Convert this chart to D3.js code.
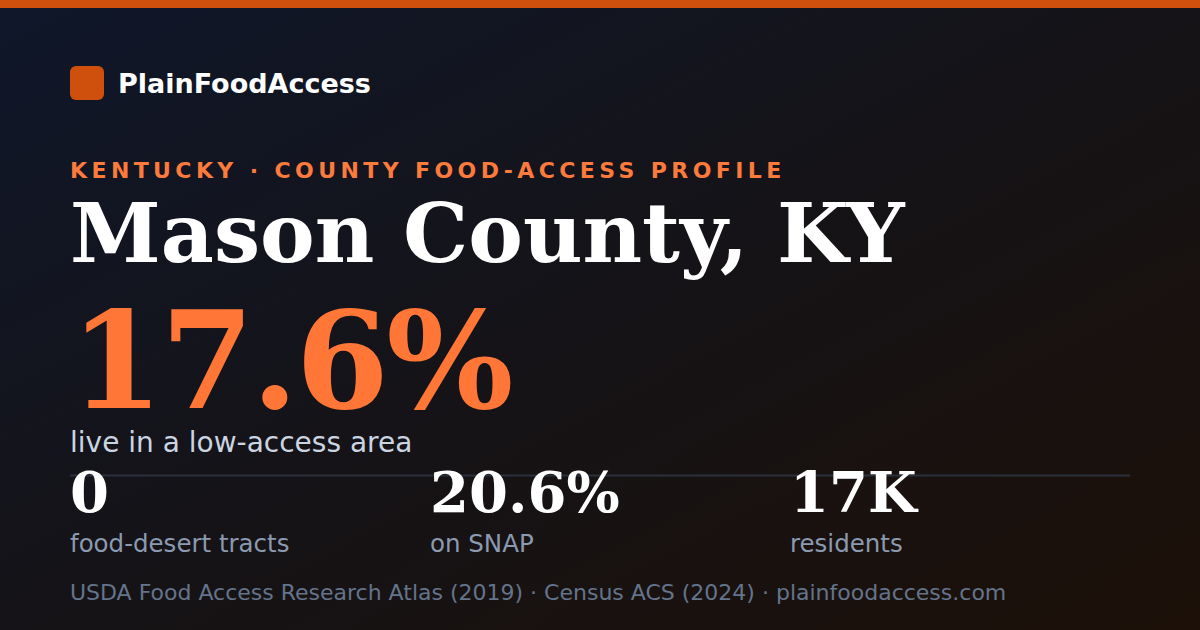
<!DOCTYPE html>
<html><head><meta charset="utf-8">
<script src="https://cdn.jsdelivr.net/npm/d3@7/dist/d3.min.js"></script>
<style>html,body{margin:0;padding:0;background:#111;}svg{display:block;}</style>
</head><body>
<script>
const brand = "PlainFoodAccess";
const kicker = "KENTUCKY · COUNTY FOOD-ACCESS PROFILE";
const title = "Mason County, KY";
const headline = "17.6%";
const headlineLabel = "live in a low-access area";
const statValues = ["0", "20.6%", "17K"];
const statLabels = ["food-desert tracts", "on SNAP", "residents"];
const footer = "USDA Food Access Research Atlas (2019) · Census ACS (2024) · plainfoodaccess.com";

const W = 1200, H = 630;
const sans = "'DejaVu Sans', sans-serif";
const serif = "'DejaVu Serif', serif";
const svg = d3.select("body").append("svg").attr("width", W).attr("height", H);
const defs = svg.append("defs");
const g = defs.append("linearGradient").attr("id","bg").attr("x1","0").attr("y1","0").attr("x2","1").attr("y2","1");
g.append("stop").attr("offset","0%").attr("stop-color","#0f172a");
g.append("stop").attr("offset","50%").attr("stop-color","#151317");
g.append("stop").attr("offset","100%").attr("stop-color","#1c1008");
svg.append("rect").attr("width",W).attr("height",H).attr("fill","url(#bg)");
svg.append("rect").attr("width",W).attr("height",8).attr("fill","#cf500c");

svg.append("rect").attr("x",70).attr("y",66).attr("width",34).attr("height",34).attr("rx",6).attr("fill","#cf500c");
svg.append("text").attr("x",118).attr("y",93).attr("font-family",sans).attr("font-weight","bold")
  .attr("font-size",27).attr("fill","#ffffff").text(brand);

svg.append("text").attr("x",70).attr("y",178).attr("font-family",sans).attr("font-weight","bold")
  .attr("font-size",22).attr("letter-spacing",4.4).attr("fill","#fb7a3c").text(kicker);

svg.append("text").attr("x",70).attr("y",262).attr("font-family",serif).attr("font-weight","bold")
  .attr("font-size",82).attr("fill","#ffffff").text(title);

svg.append("text").attr("x",70).attr("y",408).attr("font-family",serif).attr("font-weight","bold")
  .attr("font-size",134).attr("letter-spacing",-2.5).attr("fill","#ff7636").text(headline);

svg.append("text").attr("x",70).attr("y",452).attr("font-family",sans)
  .attr("font-size",28).attr("fill","#cbd5e1").text(headlineLabel);

svg.append("line").attr("x1",70).attr("x2",1130).attr("y1",475.5).attr("y2",475.5)
  .attr("stroke","#2b313c").attr("stroke-width",2);

const x = d3.scalePoint().domain(statLabels).range([70, 790]);
const stats = svg.selectAll("g.stat").data(statLabels.map((l,i)=>({label:l, value:statValues[i]})))
  .join("g").attr("class","stat").attr("transform", d=>`translate(${x(d.label)},0)`);
stats.append("text").attr("y",512).attr("font-family",serif).attr("font-weight","bold")
  .attr("font-size",56).attr("fill","#ffffff").text(d=>d.value);
stats.append("text").attr("y",552).attr("font-family",sans)
  .attr("font-size",24.5).attr("fill","#8b9ab0").text(d=>d.label);

svg.append("text").attr("x",70).attr("y",600).attr("font-family",sans)
  .attr("font-size",22).attr("fill","#64748b").text(footer);
</script>
</body></html>
